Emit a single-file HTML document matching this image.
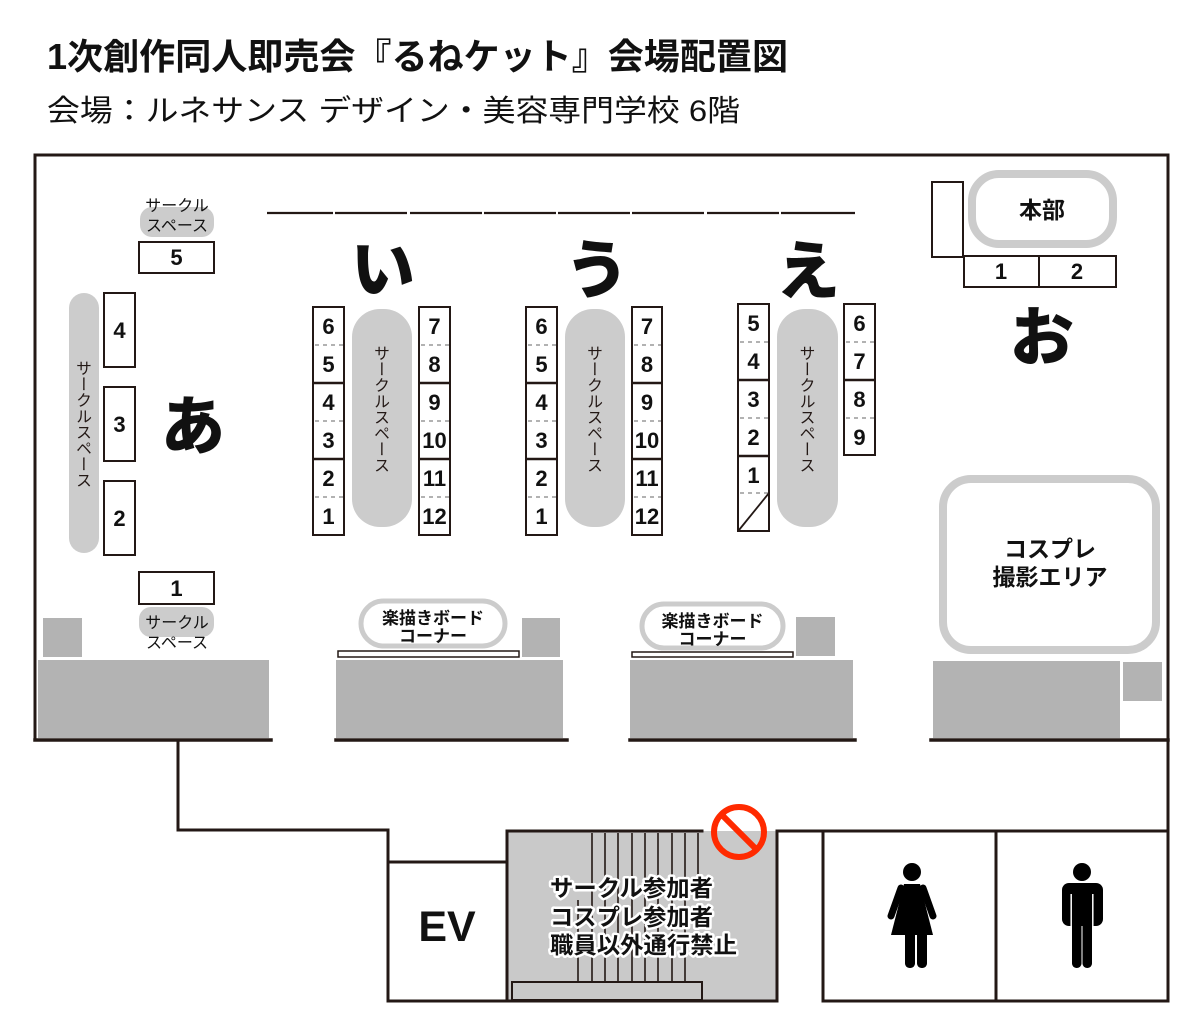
<!DOCTYPE html>
<html><head><meta charset="utf-8">
<style>
html,body{margin:0;padding:0;background:#fff;}
body{width:1200px;height:1029px;position:relative;overflow:hidden;font-family:"Liberation Sans","Noto Sans CJK JP",sans-serif;}
svg{position:absolute;left:0;top:0;}
.v{position:absolute;writing-mode:vertical-rl;font-size:16px;line-height:16px;width:16px;color:#231815;font-family:"Noto Sans CJK JP","Liberation Sans",sans-serif;white-space:nowrap;}
</style></head><body>
<svg width="1200" height="1029" viewBox="0 0 1200 1029" font-family="'Liberation Sans','Noto Sans CJK JP',sans-serif">
<!-- Title -->
<text x="47" y="69" font-size="36" font-weight="700" fill="#111" textLength="741" lengthAdjust="spacingAndGlyphs">1次創作同人即売会『るねケット』会場配置図</text>
<text x="47" y="121" font-size="30" font-weight="400" fill="#111" textLength="693" lengthAdjust="spacingAndGlyphs">会場：ルネサンス デザイン・美容専門学校 6階</text>

<!-- gray blocks -->
<g fill="#b3b3b3">
<rect x="38" y="660" width="231" height="78"/>
<rect x="336" y="660" width="227" height="78"/>
<rect x="630" y="660" width="223" height="78"/>
<rect x="933" y="661" width="187" height="77"/>
<rect x="43" y="618" width="39" height="39"/>
<rect x="522" y="618" width="38" height="39"/>
<rect x="796" y="617" width="39" height="39"/>
<rect x="1123" y="662" width="39" height="39"/>
</g>
<!-- boards -->
<g fill="#fff" stroke="#231815" stroke-width="1.5">
<rect x="338" y="651" width="181" height="6"/>
<rect x="632" y="652" width="161" height="5"/>
</g>

<!-- stairs area -->
<rect x="508" y="831" width="269" height="170" fill="#c9c9c9"/>
<g stroke="#231815" stroke-width="1.6">
<line x1="592" y1="833" x2="592" y2="982"/>
<line x1="605" y1="833" x2="605" y2="982"/>
<line x1="618" y1="833" x2="618" y2="982"/>
<line x1="632" y1="833" x2="632" y2="982"/>
<line x1="645" y1="833" x2="645" y2="982"/>
<line x1="658" y1="833" x2="658" y2="982"/>
<line x1="672" y1="833" x2="672" y2="982"/>
<line x1="685" y1="833" x2="685" y2="982"/>
<line x1="698" y1="833" x2="698" y2="900"/>
<line x1="578" y1="900" x2="578" y2="982"/>
</g>
<rect x="512" y="982" width="190" height="18" fill="#c9c9c9" stroke="#231815" stroke-width="2"/>

<!-- walls -->
<g stroke="#231815" stroke-width="3" fill="none" stroke-linecap="square">
<path d="M35,155 H1168 V1001"/>
<path d="M35,155 V740"/>
<path d="M35,740 H271" stroke-width="3.5"/>
<path d="M336,740 H567" stroke-width="3.5"/>
<path d="M630,740 H855" stroke-width="3.5"/>
<path d="M931,740 H1168" stroke-width="3.5"/>
<path d="M178,740 V830 H388 V1001 H777"/>
<path d="M388,862 H507"/>
<path d="M507,831 V1001"/>
<path d="M507,831 H702"/>
<path d="M777,1001 V831 H1168"/>
<path d="M823,831 V1001 H1168"/>
<path d="M996,831 V1001"/>
</g>

<!-- top thin partition line -->
<g stroke="#231815" stroke-width="2.2">
<line x1="267" y1="213" x2="333" y2="213"/>
<line x1="335" y1="213" x2="407" y2="213"/>
<line x1="410" y1="213" x2="482" y2="213"/>
<line x1="484" y1="213" x2="556" y2="213"/>
<line x1="558" y1="213" x2="630" y2="213"/>
<line x1="632" y1="213" x2="704" y2="213"/>
<line x1="707" y1="213" x2="779" y2="213"/>
<line x1="781" y1="213" x2="855" y2="213"/>
</g>

<!-- gray pills (circle spaces) -->
<g fill="#cccccc">
<rect x="69" y="293" width="30" height="260" rx="15"/>
<rect x="352" y="309" width="60" height="218" rx="28"/>
<rect x="565" y="309" width="60" height="218" rx="28"/>
<rect x="777" y="309" width="61" height="218" rx="28"/>
<rect x="140" y="207" width="74" height="30" rx="12"/>
<rect x="139" y="607" width="75" height="30" rx="12"/>
</g>

<!-- number boxes -->
<g fill="#fff" stroke="#231815" stroke-width="2">
<rect x="139" y="242" width="75" height="31"/>
<rect x="139" y="572" width="75" height="32"/>
<rect x="104" y="293" width="31" height="74"/>
<rect x="104" y="387" width="31" height="74"/>
<rect x="104" y="481" width="31" height="74"/>
<rect x="313" y="307" width="31" height="228"/>
<rect x="419" y="307" width="31" height="228"/>
<rect x="526" y="307" width="31" height="228"/>
<rect x="632" y="307" width="30" height="228"/>
<rect x="738" y="304" width="31" height="227"/>
<rect x="844" y="304" width="31" height="151"/>
<rect x="932" y="182" width="31" height="75"/>
<rect x="964" y="256" width="75" height="31"/>
<rect x="1039" y="256" width="77" height="31"/>
</g>
<g stroke="#231815" stroke-width="2.5">
<line x1="313" y1="383" x2="344" y2="383"/><line x1="313" y1="459" x2="344" y2="459"/>
<line x1="419" y1="383" x2="450" y2="383"/><line x1="419" y1="459" x2="450" y2="459"/>
<line x1="526" y1="383" x2="557" y2="383"/><line x1="526" y1="459" x2="557" y2="459"/>
<line x1="632" y1="383" x2="662" y2="383"/><line x1="632" y1="459" x2="662" y2="459"/>
<line x1="738" y1="380" x2="769" y2="380"/><line x1="738" y1="456" x2="769" y2="456"/>
<line x1="844" y1="380" x2="875" y2="380"/>
</g>
<line x1="739" y1="530" x2="769" y2="493" stroke="#231815" stroke-width="1.8"/>
<g stroke="#666" stroke-width="1" stroke-dasharray="4,4">
<line x1="315" y1="345" x2="343" y2="345"/><line x1="315" y1="421" x2="343" y2="421"/><line x1="315" y1="497" x2="343" y2="497"/>
<line x1="421" y1="345" x2="449" y2="345"/><line x1="421" y1="421" x2="449" y2="421"/><line x1="421" y1="497" x2="449" y2="497"/>
<line x1="528" y1="345" x2="556" y2="345"/><line x1="528" y1="421" x2="556" y2="421"/><line x1="528" y1="497" x2="556" y2="497"/>
<line x1="634" y1="345" x2="661" y2="345"/><line x1="634" y1="421" x2="661" y2="421"/><line x1="634" y1="497" x2="661" y2="497"/>
<line x1="740" y1="342" x2="768" y2="342"/><line x1="740" y1="418" x2="768" y2="418"/><line x1="740" y1="493" x2="768" y2="493"/>
<line x1="846" y1="342" x2="874" y2="342"/><line x1="846" y1="418" x2="874" y2="418"/>
</g>

<!-- rounded outline areas -->
<rect x="972" y="174" width="141" height="70" rx="27" fill="#fff" stroke="#cccccc" stroke-width="8"/>
<rect x="943" y="479" width="213" height="171" rx="28" fill="#fff" stroke="#cccccc" stroke-width="8"/>
<rect x="361" y="601" width="144" height="45" rx="22.5" fill="#fff" stroke="#cccccc" stroke-width="5"/>
<rect x="642" y="604" width="141" height="44" rx="22" fill="#fff" stroke="#cccccc" stroke-width="5"/>

<!-- numbers -->
<g font-size="22" font-weight="700" fill="#111" text-anchor="middle" font-family="'Liberation Sans',sans-serif">
<text x="176.5" y="265">5</text>
<text x="176.5" y="596">1</text>
<text x="119.5" y="338">4</text>
<text x="119.5" y="432">3</text>
<text x="119.5" y="526">2</text>
<text x="328.5" y="334">6</text><text x="328.5" y="372">5</text><text x="328.5" y="410">4</text><text x="328.5" y="448">3</text><text x="328.5" y="486">2</text><text x="328.5" y="524">1</text>
<text x="434.5" y="334">7</text><text x="434.5" y="372">8</text><text x="434.5" y="410">9</text><text x="434.5" y="448">10</text><text x="434.5" y="486">11</text><text x="434.5" y="524">12</text>
<text x="541.5" y="334">6</text><text x="541.5" y="372">5</text><text x="541.5" y="410">4</text><text x="541.5" y="448">3</text><text x="541.5" y="486">2</text><text x="541.5" y="524">1</text>
<text x="647" y="334">7</text><text x="647" y="372">8</text><text x="647" y="410">9</text><text x="647" y="448">10</text><text x="647" y="486">11</text><text x="647" y="524">12</text>
<text x="753.5" y="331">5</text><text x="753.5" y="369">4</text><text x="753.5" y="407">3</text><text x="753.5" y="445">2</text><text x="753.5" y="483">1</text>
<text x="859.5" y="331">6</text><text x="859.5" y="369">7</text><text x="859.5" y="407">8</text><text x="859.5" y="445">9</text>
<text x="1001" y="279">1</text><text x="1077" y="279">2</text>
</g>

<!-- big kana -->
<g font-size="64" font-weight="900" fill="#111" text-anchor="middle" font-family="'Noto Sans CJK JP',sans-serif">
<text x="193" y="449">あ</text>
<text x="383" y="292">い</text>
<text x="597" y="293">う</text>
<text x="808" y="294">え</text>
<text x="1042" y="360">お</text>
</g>

<!-- small labels -->
<g font-size="16" fill="#111" text-anchor="middle" font-family="'Noto Sans CJK JP',sans-serif">
<text x="177" y="211">サークル</text>
<text x="177" y="231">スペース</text>
<text x="177" y="628">サークル</text>
<text x="177" y="648">スペース</text>
</g>
<g font-size="17" font-weight="700" fill="#111" text-anchor="middle" font-family="'Noto Sans CJK JP',sans-serif">
<text x="433" y="624">楽描きボード</text>
<text x="433" y="642">コーナー</text>
<text x="712.5" y="627">楽描きボード</text>
<text x="712.5" y="645">コーナー</text>
</g>
<g font-size="23" font-weight="700" fill="#111" text-anchor="middle" font-family="'Noto Sans CJK JP',sans-serif">
<text x="1042" y="218">本部</text>
<text x="1050" y="557">コスプレ</text>
<text x="1050" y="585">撮影エリア</text>
</g>

<!-- EV -->
<text x="447" y="941" font-size="43" font-weight="700" fill="#111" text-anchor="middle" font-family="'Liberation Sans',sans-serif">EV</text>

<!-- stairs notice -->
<g font-size="23" font-weight="700" fill="#111" stroke="#fff" stroke-width="5" stroke-linejoin="round" paint-order="stroke" font-family="'Noto Sans CJK JP',sans-serif">
<text x="550" y="896" textLength="163" lengthAdjust="spacingAndGlyphs">サークル参加者</text>
<text x="550" y="925" textLength="163" lengthAdjust="spacingAndGlyphs">コスプレ参加者</text>
<text x="550" y="953" textLength="187" lengthAdjust="spacingAndGlyphs">職員以外通行禁止</text>
</g>

<!-- prohibition sign -->
<circle cx="739" cy="832" r="25" fill="none" stroke="#ff2a00" stroke-width="6"/>
<line x1="722" y1="815" x2="756" y2="849" stroke="#ff2a00" stroke-width="6"/>

<!-- female -->
<g fill="#000">
<circle cx="912" cy="872" r="9"/>
<polygon points="904,884 920,884 933,935 891,935"/>
<line x1="901" y1="888" x2="891" y2="916" stroke="#000" stroke-width="7" stroke-linecap="round"/>
<line x1="923" y1="888" x2="933" y2="916" stroke="#000" stroke-width="7" stroke-linecap="round"/>
<rect x="905" y="928" width="10" height="40" rx="4.5"/>
<rect x="917" y="928" width="10" height="40" rx="4.5"/>
</g>
<!-- male -->
<g fill="#000">
<circle cx="1082" cy="872" r="9"/>
<rect x="1062" y="883" width="41" height="43" rx="7"/>
<rect x="1072" y="915" width="9.5" height="53" rx="4.5"/>
<rect x="1082.5" y="915" width="9.5" height="53" rx="4.5"/>
<line x1="1071.2" y1="894" x2="1071.2" y2="927" stroke="#fff" stroke-width="1.5"/>
<line x1="1092.8" y1="894" x2="1092.8" y2="927" stroke="#fff" stroke-width="1.5"/>
</g>
</svg>

<!-- vertical labels -->
<div class="v" style="left:76px;top:360px;">サークルスペース</div>
<div class="v" style="left:374px;top:345px;">サークルスペース</div>
<div class="v" style="left:587px;top:345px;">サークルスペース</div>
<div class="v" style="left:799.5px;top:345px;">サークルスペース</div>
</body></html>
